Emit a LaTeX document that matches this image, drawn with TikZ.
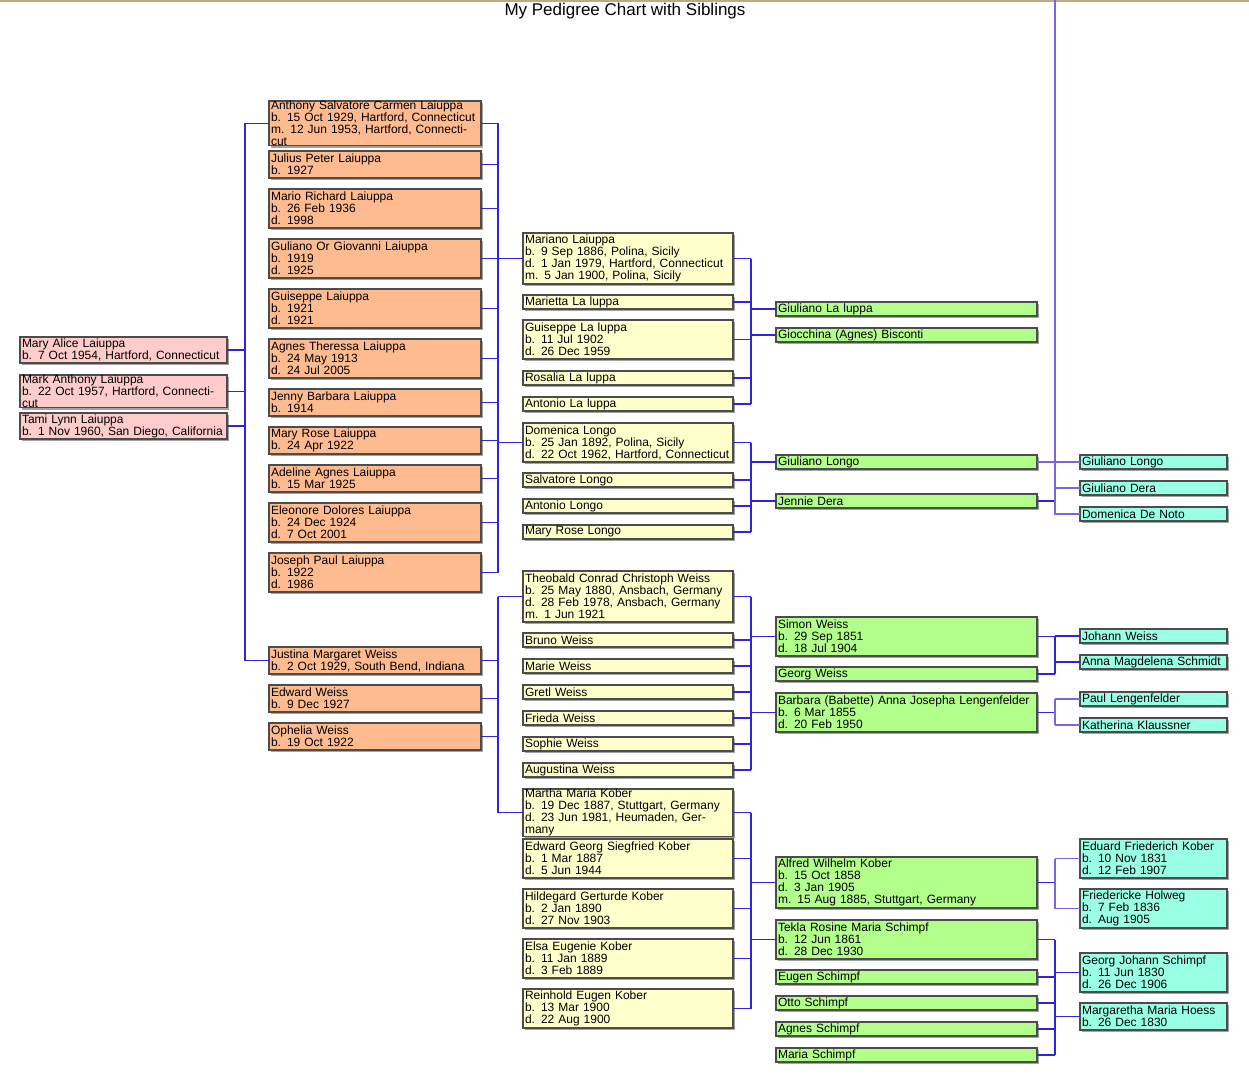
\documentclass[tikz,border=0pt]{standalone}
\usepackage{fontspec}
\setmainfont{Liberation Sans}
\usetikzlibrary{shadows}
\definecolor{pinkF}{HTML}{FFCCCC}
\definecolor{orangeF}{HTML}{FFBB90}
\definecolor{yellowF}{HTML}{FFFFCC}
\definecolor{greenF}{HTML}{B3FF8C}
\definecolor{cyanF}{HTML}{99FFE5}
\definecolor{linkC}{HTML}{3322DD}
\definecolor{linkL}{HTML}{7766DD}
\tikzset{
  person/.style={draw=black!70, line width=1.2pt, anchor=north west, inner xsep=2pt, inner ysep=0pt,
    outer sep=0pt, align=left, font=\fontsize{12}{12}\selectfont,
    drop shadow={shadow xshift=2pt, shadow yshift=-2pt, fill=black!45, opacity=.8}},
  gen0/.style={person, fill=pinkF, text width=203pt},
  gen1/.style={person, fill=orangeF, text width=208pt},
  gen2/.style={person, fill=yellowF, text width=206pt},
  gen3/.style={person, fill=greenF, text width=257pt},
  gen4/.style={person, fill=cyanF, text width=143pt},
  link/.style={draw=linkC, line width=1.2pt},
  linkl/.style={draw=linkL, line width=1.2pt}
}
% name, style, x, y top, height, text
\newcommand\pbox[6]{\node[#2, minimum height=#5pt] (#1) at (#3,#4) {#6};}
\begin{document}
\begin{tikzpicture}[x=1pt,y=-1pt]
\useasboundingbox (0,0) rectangle (1249,1076);
\draw[color={rgb,255:red,190;green,170;blue,130}, line width=1.5pt] (0,0.75) -- (1249,0.75);
\node (title) at (625,11) {\fontsize{17}{17}\selectfont My Pedigree Chart with Siblings};

% generation 0
\pbox{maryalice}{gen0}{20}{337}{26}{Mary Alice Laiuppa\\b. 7 Oct 1954, Hartford, Connecticut}
\pbox{markanthony}{gen0}{20}{375}{26}{Mark Anthony Laiuppa\\b. 22 Oct 1957, Hartford, Connecticut}
\pbox{tami}{gen0}{20}{413}{26}{Tami Lynn Laiuppa\\b. 1 Nov 1960, San Diego, California}

% generation 1
\pbox{anthony}{gen1}{269}{101}{39}{Anthony Salvatore Carmen Laiuppa\\b. 15 Oct 1929, Hartford, Connecticut\\m. 12 Jun 1953, Hartford, Connecticut}
\pbox{julius}{gen1}{269}{151}{27}{Julius Peter Laiuppa\\b. 1927}
\pbox{mario}{gen1}{269}{189}{39}{Mario Richard Laiuppa\\b. 26 Feb 1936\\d. 1998}
\pbox{guliano}{gen1}{269}{239}{39}{Guliano Or Giovanni Laiuppa\\b. 1919\\d. 1925}
\pbox{guiseppe}{gen1}{269}{289}{39}{Guiseppe Laiuppa\\b. 1921\\d. 1921}
\pbox{agnes}{gen1}{269}{339}{39}{Agnes Theressa Laiuppa\\b. 24 May 1913\\d. 24 Jul 2005}
\pbox{jenny}{gen1}{269}{389}{27}{Jenny Barbara Laiuppa\\b. 1914}
\pbox{maryrose}{gen1}{269}{427}{27}{Mary Rose Laiuppa\\b. 24 Apr 1922}
\pbox{adeline}{gen1}{269}{465}{27}{Adeline Agnes Laiuppa\\b. 15 Mar 1925}
\pbox{eleonore}{gen1}{269}{503}{39}{Eleonore Dolores Laiuppa\\b. 24 Dec 1924\\d. 7 Oct 2001}
\pbox{joseph}{gen1}{269}{553}{39}{Joseph Paul Laiuppa\\b. 1922\\d. 1986}
\pbox{justina}{gen1}{269}{647}{27}{Justina Margaret Weiss\\b. 2 Oct 1929, South Bend, Indiana}
\pbox{edward}{gen1}{269}{685}{27}{Edward Weiss\\b. 9 Dec 1927}
\pbox{ophelia}{gen1}{269}{723}{27}{Ophelia Weiss\\b. 19 Oct 1922}

% generation 2
\pbox{mariano}{gen2}{523}{233}{51}{Mariano Laiuppa\\b. 9 Sep 1886, Polina, Sicily\\d. 1 Jan 1979, Hartford, Connecticut\\m. 5 Jan 1900, Polina, Sicily}
\pbox{marietta}{gen2}{523}{295}{14}{Marietta La luppa}
\pbox{guiseppel}{gen2}{523}{320}{39}{Guiseppe La luppa\\b. 11 Jul 1902\\d. 26 Dec 1959}
\pbox{rosalia}{gen2}{523}{371}{14}{Rosalia La luppa}
\pbox{antoniol}{gen2}{523}{397}{14}{Antonio La luppa}
\pbox{domenica}{gen2}{523}{423}{39}{Domenica Longo\\b. 25 Jan 1892, Polina, Sicily\\d. 22 Oct 1962, Hartford, Connecticut}
\pbox{salvatore}{gen2}{523}{473}{14}{Salvatore Longo}
\pbox{antoniolg}{gen2}{523}{499}{14}{Antonio Longo}
\pbox{maryrosel}{gen2}{523}{525}{14}{Mary Rose Longo}
\pbox{theobald}{gen2}{523}{571}{51}{Theobald Conrad Christoph Weiss\\b. 25 May 1880, Ansbach, Germany\\d. 28 Feb 1978, Ansbach, Germany\\m. 1 Jun 1921}
\pbox{bruno}{gen2}{523}{633}{14}{Bruno Weiss}
\pbox{marie}{gen2}{523}{659}{14}{Marie Weiss}
\pbox{gretl}{gen2}{523}{685}{14}{Gretl Weiss}
\pbox{frieda}{gen2}{523}{711}{14}{Frieda Weiss}
\pbox{sophie}{gen2}{523}{737}{14}{Sophie Weiss}
\pbox{augustina}{gen2}{523}{763}{14}{Augustina Weiss}
\pbox{martha}{gen2}{523}{789}{39}{Martha Maria Kober\\b. 19 Dec 1887, Stuttgart, Germany\\d. 23 Jun 1981, Heumaden, Germany}
\pbox{edwardg}{gen2}{523}{839}{39}{Edward Georg Siegfried Kober\\b. 1 Mar 1887\\d. 5 Jun 1944}
\pbox{hildegard}{gen2}{523}{889}{39}{Hildegard Gerturde Kober\\b. 2 Jan 1890\\d. 27 Nov 1903}
\pbox{elsa}{gen2}{523}{939}{39}{Elsa Eugenie Kober\\b. 11 Jan 1889\\d. 3 Feb 1889}
\pbox{reinhold}{gen2}{523}{989}{39}{Reinhold Eugen Kober\\b. 13 Mar 1900\\d. 22 Aug 1900}

% generation 3
\pbox{giulianol}{gen3}{776}{302}{14}{Giuliano La luppa}
\pbox{giocchina}{gen3}{776}{328}{14}{Giocchina (Agnes) Bisconti}
\pbox{giulianolg}{gen3}{776}{455}{14}{Giuliano Longo}
\pbox{jennie}{gen3}{776}{494}{14}{Jennie Dera}
\pbox{simon}{gen3}{776}{617}{39}{Simon Weiss\\b. 29 Sep 1851\\d. 18 Jul 1904}
\pbox{georgw}{gen3}{776}{667}{14}{Georg Weiss}
\pbox{barbara}{gen3}{776}{693}{39}{Barbara (Babette) Anna Josepha Lengenfelder\\b. 6 Mar 1855\\d. 20 Feb 1950}
\pbox{alfred}{gen3}{776}{857}{51}{Alfred Wilhelm Kober\\b. 15 Oct 1858\\d. 3 Jan 1905\\m. 15 Aug 1885, Stuttgart, Germany}
\pbox{tekla}{gen3}{776}{920}{39}{Tekla Rosine Maria Schimpf\\b. 12 Jun 1861\\d. 28 Dec 1930}
\pbox{eugen}{gen3}{776}{970}{14}{Eugen Schimpf}
\pbox{otto}{gen3}{776}{996}{14}{Otto Schimpf}
\pbox{agness}{gen3}{776}{1022}{14}{Agnes Schimpf}
\pbox{marias}{gen3}{776}{1048}{14}{Maria Schimpf}

% generation 4
\pbox{giulianolg2}{gen4}{1080}{455}{14}{Giuliano Longo}
\pbox{giulianod}{gen4}{1080}{481}{14}{Giuliano Dera}
\pbox{domenicad}{gen4}{1080}{507}{14}{Domenica De Noto}
\pbox{johann}{gen4}{1080}{629}{14}{Johann Weiss}
\pbox{anna}{gen4}{1080}{655}{14}{Anna Magdelena Schmidt}
\pbox{paul}{gen4}{1080}{692}{14}{Paul Lengenfelder}
\pbox{katherina}{gen4}{1080}{718}{14}{Katherina Klaussner}
\pbox{eduard}{gen4}{1080}{839}{39}{Eduard Friederich Kober\\b. 10 Nov 1831\\d. 12 Feb 1907}
\pbox{friedericke}{gen4}{1080}{889}{39}{Friedericke Holweg\\b. 7 Feb 1836\\d. Aug 1905}
\pbox{georgj}{gen4}{1080}{953}{39}{Georg Johann Schimpf\\b. 11 Jun 1830\\d. 26 Dec 1906}
\pbox{margaretha}{gen4}{1080}{1003}{27}{Margaretha Maria Hoess\\b. 26 Dec 1830}

% buses
\coordinate (busA) at (245,0);
\coordinate (busB) at (498,0);
\coordinate (busC) at (751,0);
\coordinate (busD) at (1055,0);

\foreach \c in {maryalice,markanthony,tami} \draw[link] (\c.east) -- (\c.east -| busA);
\draw[link] (busA |- anthony.west) -- (busA |- justina.west);
\foreach \p in {anthony,justina} \draw[link] (busA |- \p.west) -- (\p.west);

\foreach \c in {anthony,julius,mario,guliano,guiseppe,agnes,jenny,maryrose,adeline,eleonore,joseph}
  \draw[link] (\c.east) -- (\c.east -| busB);
\draw[link] (busB |- anthony.east) -- (busB |- joseph.east);
\foreach \p in {mariano,domenica} \draw[link] (busB |- \p.west) -- (\p.west);

\foreach \c in {justina,edward,ophelia} \draw[link] (\c.east) -- (\c.east -| busB);
\draw[link] (busB |- theobald.west) -- (busB |- martha.west);
\foreach \p in {theobald,martha} \draw[link] (busB |- \p.west) -- (\p.west);

\foreach \c in {mariano,marietta,guiseppel,rosalia,antoniol} \draw[link] (\c.east) -- (\c.east -| busC);
\draw[link] (busC |- mariano.east) -- (busC |- antoniol.east);
\foreach \p in {giulianol,giocchina} \draw[link] (busC |- \p.west) -- (\p.west);

\foreach \c in {domenica,salvatore,antoniolg,maryrosel} \draw[link] (\c.east) -- (\c.east -| busC);
\draw[link] (busC |- domenica.east) -- (busC |- maryrosel.east);
\foreach \p in {giulianolg,jennie} \draw[link] (busC |- \p.west) -- (\p.west);

\foreach \c in {theobald,bruno,marie,gretl,frieda,sophie,augustina} \draw[link] (\c.east) -- (\c.east -| busC);
\draw[link] (busC |- theobald.east) -- (busC |- augustina.east);
\foreach \p in {simon,barbara} \draw[link] (busC |- \p.west) -- (\p.west);

\foreach \c in {martha,edwardg,hildegard,elsa,reinhold} \draw[link] (\c.east) -- (\c.east -| busC);
\draw[link] (busC |- martha.east) -- (busC |- reinhold.east);
\foreach \p in {alfred,tekla} \draw[link] (busC |- \p.west) -- (\p.west);

% generation 3 to 4
\draw[linkl] (giulianolg.east) -- (giulianolg2.west);
\draw[link] (jennie.east) -- (jennie.east -| busD);
\draw[linkl] (giulianod.west) -| (busD) |- (domenicad.west);
\draw[linkl] (busD |- giulianod.west) -- (busD |- domenicad.west);

\foreach \c in {simon,georgw} \draw[link] (\c.east) -- (\c.east -| busD);
\draw[link] (busD |- simon.east) -- (busD |- georgw.east);
\foreach \p in {johann,anna} \draw[link] (busD |- \p.west) -- (\p.west);

\draw[link] (barbara.east) -- (barbara.east -| busD);
\draw[linkl] (busD |- paul.west) -- (busD |- katherina.west);
\foreach \p in {paul,katherina} \draw[linkl] (busD |- \p.west) -- (\p.west);

\draw[link] (alfred.east) -- (alfred.east -| busD);
\draw[linkl] (busD |- eduard.west) -- (busD |- friedericke.west);
\foreach \p in {eduard,friedericke} \draw[linkl] (busD |- \p.west) -- (\p.west);

\foreach \c in {tekla,eugen,otto,agness,marias} \draw[link] (\c.east) -- (\c.east -| busD);
\draw[link] (busD |- tekla.east) -- (busD |- marias.east);
\foreach \p in {georgj,margaretha} \draw[link] (busD |- \p.west) -- (\p.west);
\end{tikzpicture}
\end{document}
